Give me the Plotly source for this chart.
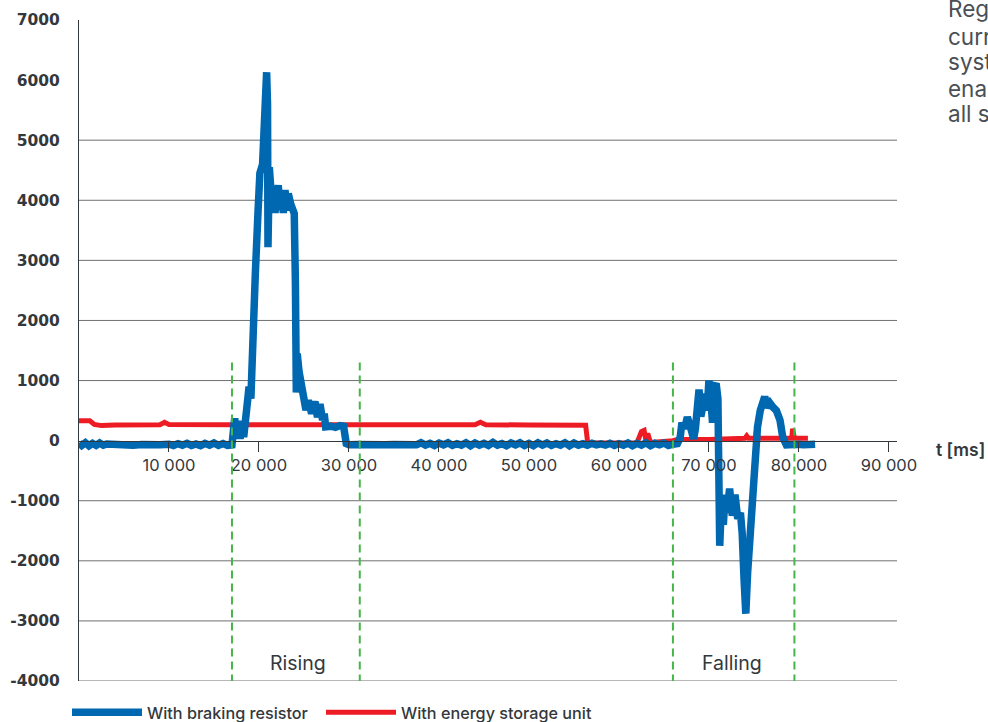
import plotly.graph_objects as go

# ---------------- data ----------------
blue_t = [0, 300, 700, 1100, 1500, 1900, 2300, 2700, 3100, 4000, 5000, 6000, 7000, 8000, 9000,
          10000, 10500, 11000, 11500, 12000, 12500, 13000, 13500, 14000, 14500, 15000, 15500,
          16000, 16500, 17000,
          17150, 17300, 17500, 17700, 17900, 18100, 18300, 18500, 18700, 18900, 19100, 19350,
          19600, 19900, 20100, 20400, 20650, 20850, 20950, 21000, 21050, 21150, 21400, 21600,
          21780, 21950, 22140, 22330, 22520, 22700, 22890, 23150, 23260, 23520, 23740, 23920,
          24050, 24150, 24250, 24450, 24700, 24920, 25220, 25480, 25850, 26220, 26500, 26780,
          27070, 27250, 27410, 28000, 28500, 29000, 29400, 29700,
          30000, 31000, 32000, 33000, 34000, 35000, 36000, 37000, 37500,
          38000, 38500, 39000, 39500, 40000, 40500, 41000, 41500, 42000, 42500, 43000, 43500,
          44000, 44500, 45000, 45500, 46000, 46500, 47000, 47500, 48000, 48500, 49000, 49500,
          50000, 50500, 51000, 51500, 52000, 52500, 53000, 53500, 54000, 54500, 55000, 55500,
          56000, 56500, 57000, 57500, 58000, 58500, 59000, 59500, 60000, 60500, 61000, 61500,
          62000, 62500, 63000, 63500, 64000, 64500, 65000, 65500, 66000,
          66500, 66800, 67000, 67300, 67600, 67900, 68100, 68300, 68500, 68700, 68900, 69100,
          69400, 69600, 69800, 70000, 70200, 70400, 70600, 70800, 71000, 71100, 71200, 71400,
          71600, 71800, 72000, 72300, 72600, 72900, 73200, 73500, 73700, 73900, 74100, 74300,
          74600, 74900, 75100, 75400, 75700, 76000, 76200, 76500, 76800, 77100, 77500, 77900,
          78200, 78600, 79000, 79500, 80000, 80500, 81000, 81500, 81800]
blue_v = [-40, -80, -35, -85, -45, -80, -40, -75, -55, -70, -60, -75, -65, -75, -70,
          -60, -80, -50, -75, -45, -80, -55, -85, -45, -75, -40, -80,
          -50, -80, -70,
          100, 370, 120, 330, 30, 280, 60, 330, 450, 900, 700, 2450,
          2800, 3830, 4450, 4600, 5220, 6130, 5600, 3220, 5000, 4550, 4000, 4170,
          3790, 4050, 4250, 3880, 4110, 3790, 4170, 3830, 4110, 3940, 3880, 3780,
          2600, 800, 1450, 1150, 900, 790, 510, 670, 450, 650, 390, 610,
          340, 450, 230, 240, 220, 250, 240, -50,
          -70, -65, -75, -60, -70, -65, -75, -60, -70,
          -35, -75, -45, -80, -40, -70, -35, -80, -50, -75, -35, -85,
          -40, -75, -45, -80, -30, -75, -50, -85, -40, -70, -35, -80,
          -45, -85, -35, -75, -40, -80, -50, -75, -35, -85, -40, -75,
          -50, -75, -45, -70, -55, -75, -45, -80, -50, -75, -40, -85,
          -45, -75, -35, -85, -45, -70, -40, -80, -60,
          -50, 50, 300, 200, 390, 250, 150, 30, 200, 500, 850, 400,
          600, 780, 500, 1000, 700, 300, 900, 950, 700, -500, -1750, -1000,
          -1400, -900, -1200, -800, -1250, -900, -1300, -1200, -1550, -2300, -2880, -2200,
          -1550, -800, -330, 230, 500, 650, 730, 550, 620, 560, 500, 340,
          60, -70, -60, -75, -60, -70, -65, -70, -60]

red_t = [0, 1200, 1700, 2500, 4000, 6000, 9000, 9500, 10000, 17000, 25000, 30000, 36000,
         40000, 44000, 44600, 45200, 50000, 56300, 56500, 56600, 62000, 62500, 62800, 63000,
         63200, 63500, 66000, 66500, 70000, 72000, 74000, 74200, 74400, 75200, 75300, 75500,
         79200, 79300, 79500, 81000]
red_v = [330, 330, 270, 250, 260, 270, 265, 305, 270, 265, 270, 265, 270,
         270, 265, 305, 265, 260, 255, 0, -40, -40, 150, 170, 0,
         120, -30, 0, 20, 20, 30, 40, 80, 40, 40, 200, 40,
         40, 200, 40, 40]

phase_lines = [17000, 31200, 66000, 79500]
phase_labels = ["Rising", "Falling"]
phase_label_x = [24300, 72600]

y_ticks = [-4000, -3000, -2000, -1000, 0, 1000, 2000, 3000, 4000, 5000, 6000, 7000]
y_grid = [-4000, -3000, -2000, -1000, 1000, 2000, 3000, 4000, 5000]
x_ticks = [10000, 20000, 30000, 40000, 50000, 60000, 70000, 80000, 90000]
x_tick_text = ["10 000", "20 000", "30 000", "40 000", "50 000", "60 000", "70 000", "80 000", "90 000"]

series_names = ["With braking resistor", "With energy storage unit"]
right_text = ["Regenerative", "current", "system", "enabled", "all stages"]

BLUE = "#0067b1"
RED = "#ed1c24"
GREEN = "#45b649"
TXT = "#33383d"

fig = go.Figure()
fig.add_trace(go.Scatter(x=red_t, y=red_v, mode="lines", name=series_names[1],
                         line=dict(color=RED, width=5), legend="legend2"))
fig.add_trace(go.Scatter(x=blue_t, y=blue_v, mode="lines", name=series_names[0],
                         line=dict(color=BLUE, width=7.5), legend="legend"))

shapes = []
for g in y_grid:
    shapes.append(dict(type="line", xref="paper", yref="y", x0=0, x1=1, y0=g, y1=g,
                       line=dict(color="#707070", width=1), layer="below"))
for xv in phase_lines:
    shapes.append(dict(type="line", xref="x", yref="y", x0=xv, x1=xv, y0=1300, y1=-4000,
                       line=dict(color=GREEN, width=2, dash="8px,5px"), layer="above"))

annotations = []
for lbl, xv in zip(phase_labels, phase_label_x):
    annotations.append(dict(x=xv, y=-3700, xref="x", yref="y", text=lbl, showarrow=False,
                            font=dict(family="Inter", size=19.5, color=TXT)))
annotations.append(dict(x=(934 - 79) / 818, y=0.35, xref="paper", yref="paper", text="t [ms]",
                        showarrow=False, xanchor="left", yanchor="middle",
                        font=dict(family="Inter", size=17.5, color=TXT, weight=600)))
rt_y = [8, 36, 62, 88, 114]
for line, py in zip(right_text, rt_y):
    annotations.append(dict(x=(946 - 79) / 818, y=(681 - py) / 661, xref="paper", yref="paper",
                            text=line, showarrow=False, xanchor="left", yanchor="middle",
                            font=dict(family="Inter", size=22.5, color="#4a4f55")))

legend_font = dict(family="Inter", size=16.2, color=TXT, weight=500)
fig.update_layout(
    width=988, height=722,
    margin=dict(l=79, r=91, t=20, b=41, autoexpand=False),
    paper_bgcolor="white", plot_bgcolor="white",
    showlegend=True,
    legend=dict(orientation="h", x=(67 - 79) / 818, xanchor="left", y=-0.048, yanchor="middle",
                font=legend_font, itemwidth=70, bgcolor="rgba(0,0,0,0)"),
    legend2=dict(orientation="h", x=(321 - 79) / 818, xanchor="left", y=-0.048, yanchor="middle",
                 font=legend_font, itemwidth=70, bgcolor="rgba(0,0,0,0)"),
    shapes=shapes, annotations=annotations,
    xaxis=dict(range=[0, 90900], anchor="free", position=4 / 11, showgrid=False, zeroline=False,
               showline=True, linecolor="#33383d", linewidth=1,
               tickvals=x_ticks, ticktext=x_tick_text, ticks="outside", ticklen=10,
               tickcolor="#33383d", tickwidth=1,
               tickfont=dict(family="Inter", size=16.5, color=TXT)),
    yaxis=dict(range=[-4000, 7000], showgrid=False, zeroline=False, showline=True,
               linecolor="#33383d", linewidth=1, tickvals=y_ticks,
               ticktext=[str(v) for v in y_ticks], ticks="", ticklabelstandoff=15,
               tickfont=dict(family="DejaVu Sans", size=15.5, color=TXT, weight="bold")),
)

fig.write_html("out.html", config={"displayModeBar": False},
               post_script="document.body.style.margin='0';"
                           "document.documentElement.style.overflow='hidden';")
